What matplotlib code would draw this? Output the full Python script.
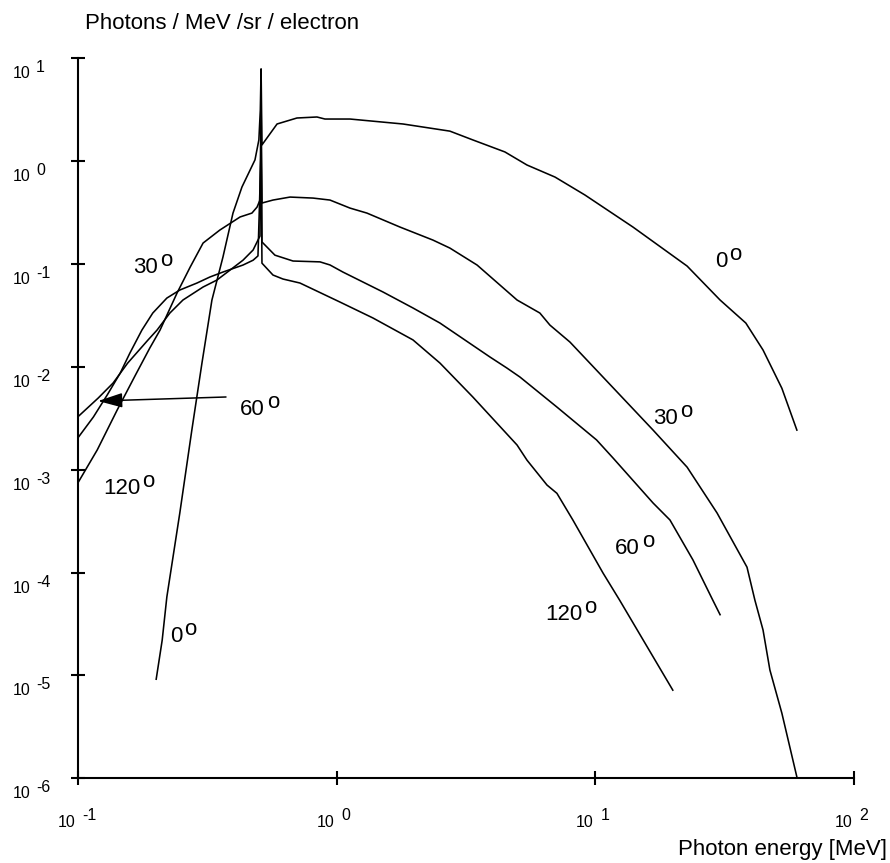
import matplotlib
matplotlib.use("Agg")
import matplotlib.pyplot as plt

plt.rcParams['font.family'] = ['Liberation Sans', 'DejaVu Sans']

# photon energy [MeV] and yield [photons / MeV / sr / electron]
e_0 = [0.201, 0.212, 0.221, 0.248, 0.276, 0.302, 0.330, 0.364, 0.398, 0.431, 0.484, 0.501, 0.5075,
       0.511, 0.515, 0.589, 0.703, 0.840, 0.902, 1.127, 1.805, 2.74, 3.36, 4.47, 5.44, 6.98, 9.11,
       13.96, 22.6, 30.3, 38.1, 44.4, 52.5, 60.0]
f_0 = [9.2e-6, 2.2e-5, 5.8e-5, 3.8e-4, 2.43e-3, 1.09e-2, 4.47e-2, 0.117, 0.313, 0.561, 1.03, 1.61, 3.14,
       7.9, 1.44, 2.30, 2.63, 2.69, 2.57, 2.57, 2.30, 1.96, 1.61, 1.23, 0.918, 0.701, 0.469,
       0.229, 0.0956, 0.0447, 0.0267, 0.0146, 6.2e-3, 2.43e-3]

e_30 = [0.100, 0.119, 0.142, 0.167, 0.190, 0.208, 0.242, 0.272, 0.305, 0.354, 0.424, 0.471, 0.493, 0.506,
        0.511, 0.515, 0.568, 0.661, 0.811, 0.943, 1.127, 1.31, 1.757, 2.357, 2.74, 3.49, 4.98, 6.10, 6.67, 7.97,
        16.7, 22.6, 29.5, 38.5, 41.3, 44.4, 47.2, 52.5, 60.0]
f_30 = [7.4e-4, 1.56e-3, 3.8e-3, 8.3e-3, 0.0153, 0.0228, 0.0523, 0.0935, 0.160, 0.214, 0.287, 0.313, 0.358, 0.419,
        3.9, 0.392, 0.419, 0.448, 0.438, 0.419, 0.350, 0.313, 0.229, 0.171, 0.143, 0.0978, 0.0447, 0.0334, 0.0255, 0.01745,
        2.43e-3, 1.06e-3, 3.8e-4, 1.13e-4, 5.4e-5, 2.77e-5, 1.13e-5, 4.3e-6, 1.03e-6]

e_60 = [0.100, 0.120, 0.137, 0.156, 0.187, 0.2025, 0.227, 0.255, 0.305, 0.345, 0.388, 0.435, 0.476, 0.497, 0.506,
        0.511, 0.515, 0.578, 0.679, 0.863, 0.943, 1.058, 1.511, 1.973, 2.508, 3.91, 4.55, 5.11, 7.10, 10.1, 11.7,
        16.7, 19.4, 23.8, 28.4, 30.3]
f_60 = [3.26e-3, 4.98e-3, 6.97e-3, 1.09e-2, 0.0183, 0.0228, 0.0334, 0.0447, 0.0598, 0.0699, 0.0875, 0.109, 0.137, 0.171, 0.187,
        2.0, 0.164, 0.122, 0.107, 0.105, 0.098, 0.0836, 0.0535, 0.0374, 0.0267, 0.0125, 9.75e-3, 7.97e-3, 4.07e-3, 1.95e-3, 1.30e-3,
        4.75e-4, 3.25e-4, 1.33e-4, 5.4e-5, 3.9e-5]

e_120 = [0.100, 0.115, 0.130, 0.146, 0.159, 0.177, 0.195, 0.221, 0.248, 0.289, 0.324, 0.364, 0.435, 0.476, 0.497,
         0.511, 0.515, 0.568, 0.621, 0.722, 1.031, 1.382, 1.973, 2.508, 3.36, 4.98, 5.44, 6.50, 7.10, 8.18, 10.7, 12.4, 19.9]
f_120 = [2.03e-3, 3.26e-3, 5.33e-3, 8.72e-3, 0.0136, 0.0228, 0.0334, 0.0467, 0.0559, 0.0654, 0.0748, 0.0836, 0.0978, 0.109, 0.120,
         1.3, 0.102, 0.0782, 0.0715, 0.0654, 0.0427, 0.0299, 0.0183, 0.0109, 5.1e-3, 1.74e-3, 1.24e-3, 7.1e-4, 5.9e-4, 3.25e-4, 9.9e-5, 5.4e-5, 7.2e-6]

# angle labels: text, energy, yield (baseline of the number)
label_txt = ["30", "60", "120", "0", "0", "30", "60", "120"]
label_e = [0.1636, 0.4236, 0.1252, 0.2273, 28.9, 16.7, 11.9, 6.38]
label_f = [0.0818, 3.40e-3, 5.81e-4, 2.11e-5, 0.0935, 2.78e-3, 1.52e-4, 3.46e-5]

# arrow for the 60 deg label
arrow_from = (0.374, 5.10e-3)
arrow_to = (0.1198, 4.66e-3)

x_exp = [-1, 0, 1, 2]
y_exp = [1, 0, -1, -2, -3, -4, -5, -6]

fig = plt.figure(figsize=(8.9, 8.63), dpi=100)
ax = fig.add_axes([0.0873, 0.0981, 0.8726, 0.8343])

for e, f in [(e_0, f_0), (e_30, f_30), (e_60, f_60), (e_120, f_120)]:
    ax.plot(e, f, color='black', lw=1.15, solid_joinstyle='round')

ax.set_xscale('log')
ax.set_yscale('log')
ax.set_xlim(0.1, 100)
ax.set_ylim(1e-6, 10)
ax.spines[['top', 'right']].set_visible(False)
for s in ('left', 'bottom'):
    ax.spines[s].set_linewidth(1.5)
ax.set_xticks([10.0 ** k for k in x_exp])
ax.set_yticks([10.0 ** k for k in y_exp])
ax.minorticks_off()
ax.tick_params(direction='inout', length=9.5, width=1.5, labelbottom=False, labelleft=False)

# tick labels written as "10" with a raised exponent
for k in y_exp:
    ax.annotate('10', xy=(0, 10.0 ** k), xycoords=ax.get_yaxis_transform(), xytext=(-47, -14.4),
                textcoords='offset points', ha='left', va='baseline', fontsize=11.5)
    ax.annotate(str(k), xy=(0, 10.0 ** k), xycoords=ax.get_yaxis_transform(), xytext=(-30, -10),
                textcoords='offset points', ha='left', va='baseline', fontsize=11.5)
for k in x_exp:
    ax.annotate('10', xy=(10.0 ** k, 0), xycoords=ax.get_xaxis_transform(), xytext=(-1.5, -35),
                textcoords='offset points', ha='right', va='baseline', fontsize=11.5)
    ax.annotate(str(k), xy=(10.0 ** k, 0), xycoords=ax.get_xaxis_transform(), xytext=(3.5, -30),
                textcoords='offset points', ha='left', va='baseline', fontsize=11.5)

for txt, x, y in zip(label_txt, label_e, label_f):
    t = ax.text(x, y, txt, ha='left', va='baseline', fontsize=16)
    ax.annotate('o', xy=(1, y), xycoords=(t, 'data'), xytext=(1.5, 5), textcoords='offset points',
                ha='left', va='baseline', fontsize=16)

ax.annotate('', xy=arrow_to, xytext=arrow_from,
            arrowprops=dict(arrowstyle='-|>,head_length=1.0,head_width=0.3', color='black',
                            lw=1.1, shrinkA=0, shrinkB=0, mutation_scale=15))

fig.text(85 / 890, 1 - 29 / 863, 'Photons / MeV /sr / electron', ha='left', va='baseline', fontsize=16)
fig.text(887 / 890, 1 - 855 / 863, 'Photon energy [MeV]', ha='right', va='baseline', fontsize=16)

fig.savefig('out.png', dpi=100)
